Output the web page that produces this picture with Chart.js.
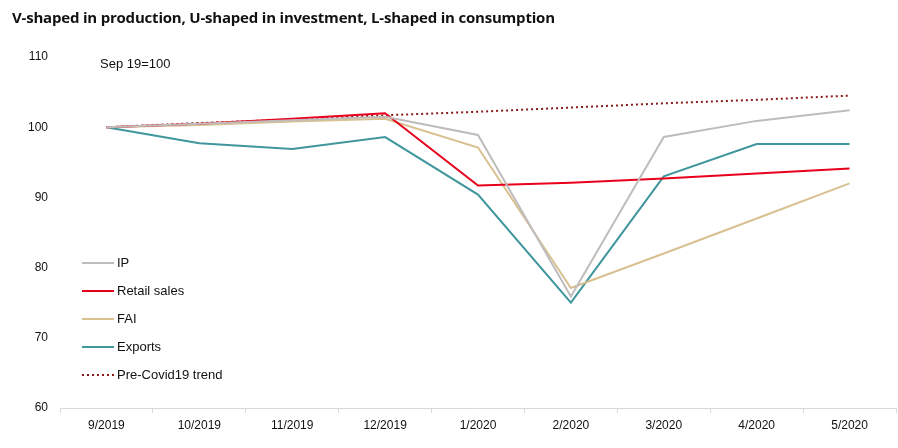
<!DOCTYPE html>
<html>
<head>
<meta charset="utf-8">
<script src="https://cdn.jsdelivr.net/npm/chart.js@4"></script>
<style>
  html, body { margin: 0; padding: 0; background: #fff; }
  #wrap { position: relative; width: 898px; height: 448px; }
  #title { position: absolute; left: 12px; top: 7px; font: bold 15px "Open Sans", sans-serif; color: #111; letter-spacing: -0.2px; }
</style>
</head>
<body>
<div id="wrap">
  <div id="title">V-shaped in production, U-shaped in investment, L-shaped in consumption</div>
  <canvas id="chart" width="898" height="448"></canvas>
</div>
<script>
const months = ['9/2019', '10/2019', '11/2019', '12/2019', '1/2020', '2/2020', '3/2020', '4/2020', '5/2020'];
const ip = [100, 100.5, 101, 101.5, 98.9, 75.9, 98.6, 100.9, 102.4];
const retail = [100, 100.5, 101.2, 102, 91.7, 92.1, 92.7, 93.4, 94.1];
const fai = [100, 100.3, 100.8, 101.2, 97.1, 77.1, 82, 87, 92];
const exportsIdx = [100, 97.7, 96.9, 98.6, 90.4, 75, 93, 97.6, 97.6];
const trend = [100, 100.6, 101.1, 101.7, 102.2, 102.8, 103.4, 103.9, 104.5];
const yTicks = [60, 70, 80, 90, 100, 110];

// legend drawn inside the plot, left side
const insideLegend = {
    id: 'insideLegend',
    afterDraw(chart) {
        const ctx = chart.ctx;
        ctx.save();
        ctx.font = '13px "Liberation Sans", Arial, sans-serif';
        ctx.textBaseline = 'middle';
        chart.data.datasets.forEach((ds, i) => {
            const y = 263 + i * 28;
            ctx.beginPath();
            ctx.strokeStyle = ds.borderColor;
            ctx.lineWidth = 2;
            ctx.setLineDash(ds.borderDash || []);
            ctx.moveTo(82, y);
            ctx.lineTo(114, y);
            ctx.stroke();
            ctx.setLineDash([]);
            ctx.fillStyle = '#111';
            ctx.fillText(ds.label, 117, y);
        });
        ctx.fillText('Sep 19=100', 100, 64);
        ctx.restore();
    }
};

new Chart(document.getElementById('chart').getContext('2d'), {
    type: 'line',
    data: {
        labels: months,
        datasets: [
            { label: 'IP', data: ip, borderColor: '#bfbcbd', borderWidth: 2 },
            { label: 'Retail sales', data: retail, borderColor: '#e8001c', borderWidth: 2 },
            { label: 'FAI', data: fai, borderColor: '#d8c090', borderWidth: 2 },
            { label: 'Exports', data: exportsIdx, borderColor: '#3f969c', borderWidth: 2 },
            { label: 'Pre-Covid19 trend', data: trend, borderColor: '#8b1a1a', borderWidth: 2, borderDash: [2, 3] }
        ]
    },
    options: {
        responsive: false,
        animation: false,
        layout: { padding: { top: 57, right: 2, left: 12, bottom: 0 } },
        elements: { point: { radius: 0 }, line: { tension: 0 } },
        plugins: { legend: { display: false }, tooltip: { enabled: false } },
        scales: {
            x: {
                offset: true,
                grid: { drawOnChartArea: false, offset: true, tickLength: 5, color: '#d9d9d9' },
                border: { display: true, color: '#d9d9d9' },
                ticks: { color: '#111', font: { family: '"Liberation Sans", Arial', size: 12 }, padding: 5, maxRotation: 0 },
                afterFit(scale) { scale.height = 40; }
            },
            y: {
                min: 60, max: 110,
                grid: { display: false },
                border: { display: false },
                afterBuildTicks(scale) { scale.ticks = yTicks.map(v => ({ value: v })); },
                ticks: { color: '#111', font: { family: '"Liberation Sans", Arial', size: 12 }, padding: 4 },
                afterFit(scale) { scale.width = 48; }
            }
        }
    },
    plugins: [insideLegend]
});
</script>
</body>
</html>
